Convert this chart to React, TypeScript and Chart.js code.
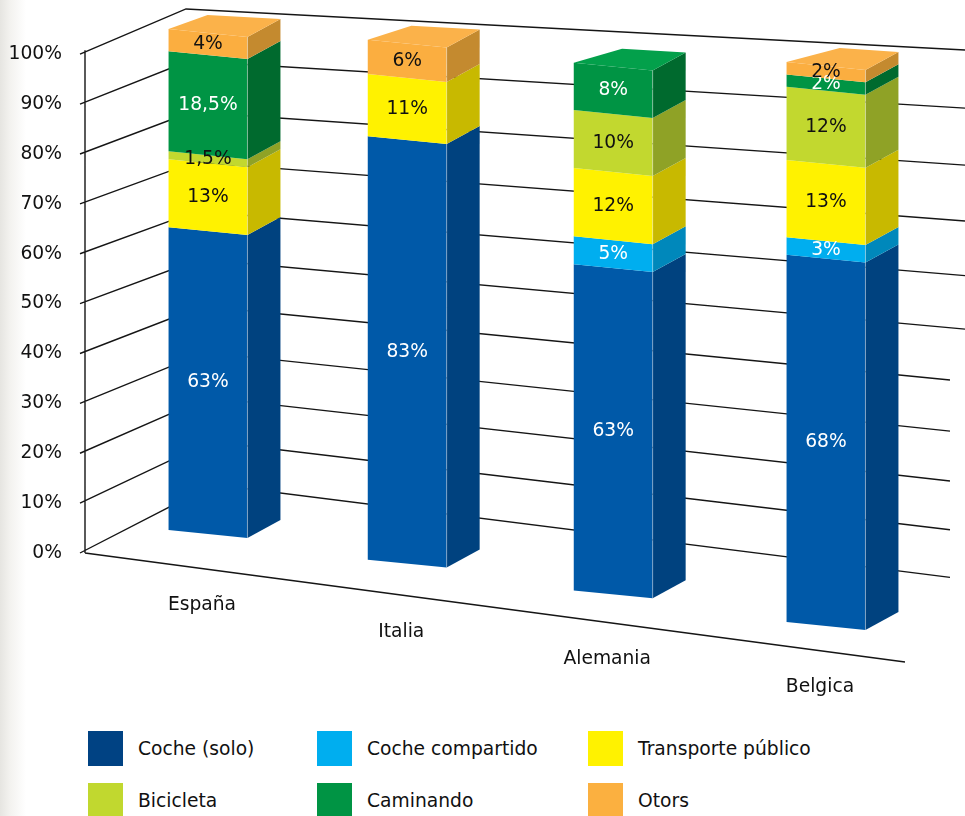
import React, { useEffect, useRef } from 'react';
import { Chart, registerables } from 'chart.js';

Chart.register(...registerables);

// ---------- data ----------
const categories = ['España', 'Italia', 'Alemania', 'Belgica'];
const seriesNames = ['Coche (solo)', 'Coche compartido', 'Transporte público', 'Bicicleta', 'Caminando', 'Otors'];
const cocheSolo = [63, 83, 63, 68];
const cocheCompartido = [0, 0, 5, 3];
const transportePublico = [13, 11, 12, 13];
const bicicleta = [1.5, 0, 10, 12];
const caminando = [18.5, 0, 8, 2];
const otros = [4, 6, 0, 2];
const yTickStep = 10;
const yMax = 100;

// ---------- styles ----------
const frontColors = ['#0059A8', '#00AEEF', '#FFF200', '#C2D82F', '#009444', '#FBAE40'];
const sideColors = ['#00427F', '#0088BB', '#C8B900', '#8FA226', '#006A2E', '#C48A2F'];
const topColors = ['#0A63B0', '#22B8F0', '#FFF530', '#C9DC45', '#03A04B', '#FBB24A'];
const legendColors = ['#004283', '#00AEEF', '#FFF200', '#C1D82F', '#009444', '#FBB040'];
const labelColors = ['#ffffff', '#ffffff', '#111111', '#111111', '#ffffff', '#111111'];
const FONT = '"DejaVu Sans", Verdana, sans-serif';
const FONT_SIZE = 18.7;
const TEXT = '#111111';

// projection constants (layout of the pseudo-3D scene)
const GEO = {
  axisX: 85,
  tickX: 80,
  baseX: 208,
  baseY: 530,
  baseSlope: 0.149,
  height0: 501,
  heightSlope: 0.0955,
  faceSlope: 0.1,
  sideDx: 33,
  sideDy: -18,
  topDxL: 39,
  topDxSlope: 0.023,
  topDy: -14,
  floorEndX: 905,
  floorEndY: 662,
  wallLX: 320,
  wallLY0: 498,
  wallLH: 482,
  wallRX: 947,
  wallRY0: 577,
  wallRH: 528,
  cornerBottomX: 213,
  cornerTopX: 186,
  catLabelDy: 36,
  catLabelDx: -6,
  // mild horizontal perspective bend between the outer bars
  bendA: 208,
  bendB: 826,
  bendK: 8.0e-5,
};
const persp = (t: number) => 0.89 * t + 0.11 * t * t;
const bendX = (x: number) => x + GEO.bendK * (x - GEO.bendA) * (x - GEO.bendB);
const fmt = (v: number) => String(v).replace('.', ',') + '%';

const seriesData = [cocheSolo, cocheCompartido, transportePublico, bicicleta, caminando, otros];

function poly(ctx: CanvasRenderingContext2D, pts: number[][], fill: string) {
  ctx.beginPath();
  ctx.moveTo(pts[0][0], pts[0][1]);
  for (let i = 1; i < pts.length; i++) ctx.lineTo(pts[i][0], pts[i][1]);
  ctx.closePath();
  ctx.fillStyle = fill;
  ctx.fill();
}

const perspectivePlugin = {
  id: 'perspective3d',
  beforeDatasetsDraw(chart: any) {
    const ctx: CanvasRenderingContext2D = chart.ctx;
    const ys = chart.scales.y;
    const frac = (pix: number) => (ys.bottom - pix) / (ys.bottom - ys.top);
    ctx.save();

    // ---- walls / grid ----
    ctx.strokeStyle = '#151515';
    ctx.lineWidth = 1.4;
    ctx.beginPath();
    for (let v = 0; v <= yMax; v += yTickStep) {
      const ya = ys.getPixelForValue(v);
      const t = frac(ya);
      const ft = persp(t);
      const yl = GEO.wallLY0 - GEO.wallLH * ft;
      const yr = GEO.wallRY0 - GEO.wallRH * ft;
      const slope = (yr - yl) / (GEO.wallRX - GEO.wallLX);
      const cX = GEO.cornerBottomX + (GEO.cornerTopX - GEO.cornerBottomX) * t;
      const cY = yl + (cX - GEO.wallLX) * slope;
      const xEnd = t >= 0.5 ? 965 : 950;
      const yEnd = yl + (xEnd - GEO.wallLX) * slope;
      ctx.moveTo(GEO.tickX, ya);
      ctx.lineTo(cX, cY);
      ctx.lineTo(xEnd, yEnd);
    }
    const y0 = ys.getPixelForValue(0);
    const y100 = ys.getPixelForValue(yMax);
    ctx.moveTo(GEO.axisX, y100 - 4);
    ctx.lineTo(GEO.axisX, y0);
    ctx.moveTo(GEO.axisX, y0);
    ctx.lineTo(GEO.floorEndX, GEO.floorEndY);
    ctx.stroke();

    // ---- bars ----
    const metas = chart.data.datasets.map((_: any, di: number) => chart.getDatasetMeta(di));
    chart.data.labels.forEach((lab: string, i: number) => {
      const el0 = metas[0].data[i];
      const cx = bendX(el0.x);
      const w = el0.width;
      const xl = cx - w / 2;
      const xr = cx + w / 2;
      const base = GEO.baseY + GEO.baseSlope * (cx - GEO.baseX);
      const H = GEO.height0 + GEO.heightSlope * (cx - GEO.baseX);
      const P = (x: number, t: number) => [x, base + GEO.faceSlope * (x - xl) - H * persp(t)];
      const side = (p: number[]) => [p[0] + GEO.sideDx, p[1] + GEO.sideDy];
      const topDxL = GEO.topDxL + GEO.topDxSlope * (cx - GEO.baseX);

      let tTop = 0;
      let topIdx = -1;
      const labelsToDraw: any[] = [];
      metas.forEach((m: any, di: number) => {
        const val = chart.data.datasets[di].data[i];
        if (!val) return;
        const el = m.data[i];
        const t0 = frac(el.base);
        const t1 = frac(el.y);
        const a = P(xl, t0), b = P(xr, t0), c = P(xr, t1), d = P(xl, t1);
        poly(ctx, [a, b, c, d], frontColors[di]);
        poly(ctx, [b, side(b), side(c), c], sideColors[di]);
        if (t1 > tTop) { tTop = t1; topIdx = di; }
        const mid = (P(cx, t0)[1] + P(cx, t1)[1]) / 2;
        labelsToDraw.push({ x: cx, y: mid, text: fmt(val), color: labelColors[di] });
      });
      if (topIdx >= 0) {
        const fl = P(xl, tTop), fr = P(xr, tTop);
        poly(ctx, [fl, fr, side(fr), [fl[0] + topDxL, fl[1] + GEO.topDy]], topColors[topIdx]);
        ctx.strokeStyle = 'rgba(255,255,255,0.35)';
        ctx.lineWidth = 1;
        ctx.beginPath();
        const e0 = P(xr, 0), e1 = P(xr, tTop);
        ctx.moveTo(e0[0], e0[1]);
        ctx.lineTo(e1[0], e1[1]);
        ctx.stroke();
      }
      ctx.font = `${FONT_SIZE}px ${FONT}`;
      ctx.textAlign = 'center';
      ctx.textBaseline = 'middle';
      labelsToDraw.forEach((l) => {
        ctx.fillStyle = l.color;
        ctx.fillText(l.text, l.x, l.y);
      });

      // category label along the floor edge
      const fy = y0 + (cx - GEO.axisX) * (GEO.floorEndY - y0) / (GEO.floorEndX - GEO.axisX);
      ctx.fillStyle = TEXT;
      ctx.fillText(lab, cx + GEO.catLabelDx, fy + GEO.catLabelDy);
    });

    ctx.restore();
    return false;
  },
};

export default function App() {
  const ref = useRef<HTMLCanvasElement | null>(null);

  useEffect(() => {
    document.body.style.margin = '0';
    const canvas = ref.current;
    if (!canvas) return;
    const chart = new Chart(canvas, {
      type: 'bar',
      data: {
        labels: categories,
        datasets: seriesNames.map((name, i) => ({
          label: name,
          data: seriesData[i],
          backgroundColor: frontColors[i],
        })),
      },
      options: {
        responsive: false,
        maintainAspectRatio: false,
        animation: false,
        devicePixelRatio: 1,
        events: [],
        layout: { padding: { top: 37, bottom: 720 - 553, left: 0, right: 36 } },
        datasets: { bar: { categoryPercentage: 0.383, barPercentage: 1 } },
        scales: {
          x: { type: 'category', display: false, stacked: true, offset: true },
          y: {
            min: 0,
            max: yMax,
            stacked: true,
            position: 'left',
            ticks: {
              stepSize: yTickStep,
              padding: 43,
              color: TEXT,
              font: { family: FONT, size: FONT_SIZE },
              callback: (v: any) => v + '%',
            },
            grid: { display: false, drawTicks: false },
            border: { display: false },
            afterFit: (s: any) => { s.width = 105; },
          },
        },
        plugins: { legend: { display: false }, tooltip: { enabled: false } },
      } as any,
      plugins: [perspectivePlugin as any],
    });
    return () => chart.destroy();
  }, []);

  return (
    <div
      style={{
        position: 'relative',
        width: 965,
        height: 816,
        overflow: 'hidden',
        background: 'linear-gradient(to right, #e6e5e1 0px, #f3f2ef 10px, #ffffff 26px)',
      }}
    >
      <canvas ref={ref} width={965} height={720} style={{ position: 'absolute', left: 0, top: 0, width: 965, height: 720 }} />
      <div
        style={{
          position: 'absolute',
          left: 88,
          top: 731,
          display: 'grid',
          gridTemplateColumns: '229px 271px auto',
          rowGap: 17,
        }}
      >
        {seriesNames.map((n, i) => (
          <div key={n} style={{ display: 'flex', alignItems: 'center', height: 35 }}>
            <span style={{ display: 'inline-block', width: 35, height: 35, background: legendColors[i], marginRight: 15 }} />
            <span style={{ font: `${FONT_SIZE}px ${FONT}`, color: TEXT, whiteSpace: 'nowrap' }}>{n}</span>
          </div>
        ))}
      </div>
    </div>
  );
}
